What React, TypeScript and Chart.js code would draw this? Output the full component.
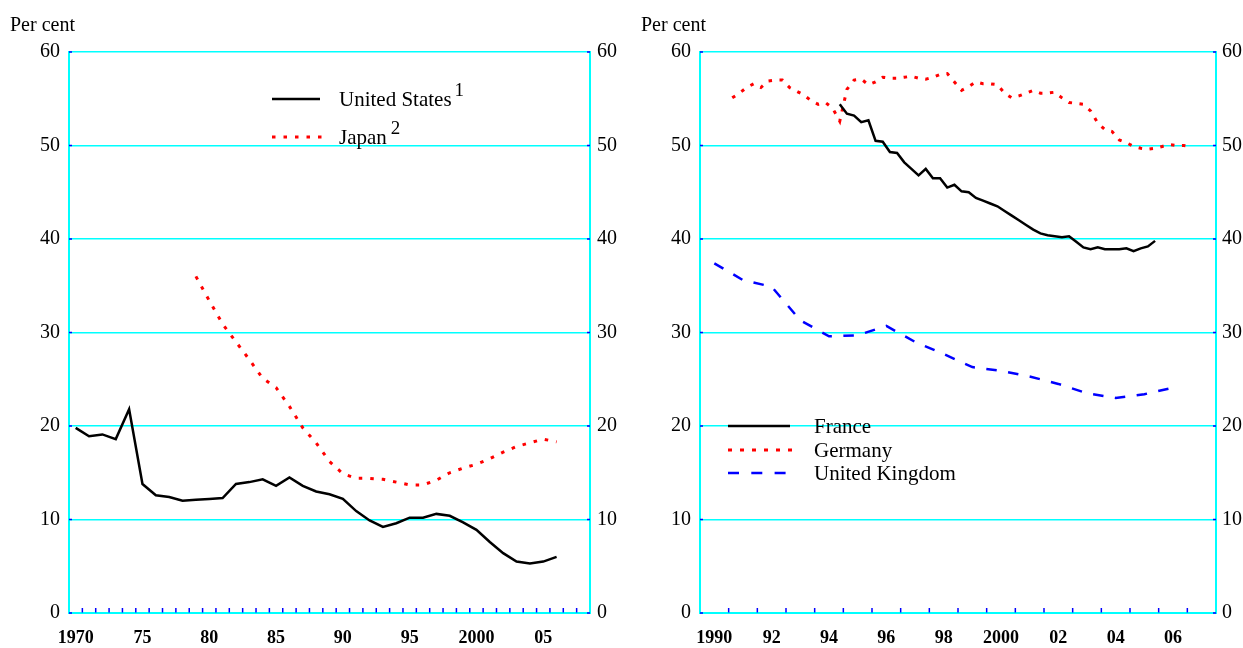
import React, { useEffect, useRef } from "react";
import { Chart, registerables } from "chart.js";

Chart.register(...registerables);

const FONT = "'Liberation Serif', 'Times New Roman', Times, serif";
const CYAN = "#00FFFF";
const TICK_BLUE = "#0000FF";

// ---------- Left panel data (annual) ----------
const usYears = [
  1970, 1971, 1972, 1973, 1974, 1975, 1976, 1977, 1978, 1979,
  1980, 1981, 1982, 1983, 1984, 1985, 1986, 1987, 1988, 1989,
  1990, 1991, 1992, 1993, 1994, 1995, 1996, 1997, 1998, 1999,
  2000, 2001, 2002, 2003, 2004, 2005, 2006,
];
const usValues = [
  19.8, 18.9, 19.1, 18.6, 21.8, 13.8, 12.6, 12.4, 12.0, 12.1,
  12.2, 12.3, 13.8, 14.0, 14.3, 13.6, 14.5, 13.6, 13.0, 12.7,
  12.2, 10.9, 9.9, 9.2, 9.6, 10.2, 10.2, 10.6, 10.4, 9.7,
  8.9, 7.6, 6.4, 5.5, 5.3, 5.5, 6.0,
];
const jpYears = [
  1979, 1980, 1981, 1982, 1983, 1984, 1985, 1986, 1987, 1988,
  1989, 1990, 1991, 1992, 1993, 1994, 1995, 1996, 1997, 1998,
  1999, 2000, 2001, 2002, 2003, 2004, 2005, 2006,
];
const jpValues = [
  36.0, 33.4, 30.9, 29.0, 27.1, 25.1, 24.1, 22.1, 19.8, 18.2,
  16.2, 14.9, 14.4, 14.4, 14.3, 14.0, 13.7, 13.7, 14.2, 15.0,
  15.5, 15.9, 16.5, 17.2, 17.8, 18.2, 18.6, 18.3,
];
const leftLabelYears = [1970, 1975, 1980, 1985, 1990, 1995, 2000, 2005];
const leftLabelTexts = ["1970", "75", "80", "85", "90", "95", "2000", "05"];
const leftAxisFrom = 1970;
const leftAxisTo = 2009;

// ---------- Right panel data ----------
// France: quarterly from 1994 Q4
const frStart = { year: 1994, quarter: 4 };
const frValues = [
  54.4, 53.4, 53.2, 52.5, 52.7, 50.5, 50.4, 49.3, 49.2, 48.2,
  47.5, 46.8, 47.5, 46.5, 46.5, 45.5, 45.8, 45.1, 45.0, 44.4,
  44.1, 43.8, 43.5, 43.0, 42.5, 42.0, 41.5, 41.0, 40.6, 40.4,
  40.3, 40.2, 40.3, 39.7, 39.1, 38.9, 39.1, 38.9, 38.9, 38.9,
  39.0, 38.7, 39.0, 39.2, 39.8,
];
// Germany: quarterly from 1991 Q1
const deStart = { year: 1991, quarter: 1 };
const deValues = [
  55.1, 55.6, 56.2, 56.6, 56.2, 56.9, 57.0, 57.0,
  56.2, 55.8, 55.4, 54.8, 54.4, 54.6, 54.0, 52.6,
  56.0, 57.0, 57.1, 56.5, 56.8, 57.3, 57.2, 57.2,
  57.3, 57.4, 57.2, 57.1, 57.3, 57.6, 57.7, 56.8,
  55.9, 56.3, 56.8, 56.6, 56.6, 56.5, 55.6, 55.1,
  55.3, 55.6, 55.9, 55.6, 55.6, 55.7, 55.1, 54.6,
  54.5, 54.4, 53.7, 52.4, 51.7, 51.5, 50.6, 50.3,
  49.9, 49.7, 49.6, 49.7, 49.9, 50.1, 50.0, 50.0,
  49.9,
];
// United Kingdom: annual
const ukYears = [
  1990, 1991, 1992, 1993, 1994, 1995, 1996, 1997, 1998, 1999,
  2000, 2001, 2002, 2003, 2004, 2005, 2006,
];
const ukValues = [
  37.4, 35.6, 34.9, 31.3, 29.6, 29.7, 30.7, 29.0, 27.7, 26.3,
  25.9, 25.3, 24.5, 23.5, 23.0, 23.4, 24.1,
];
const rightLabelYears = [1990, 1992, 1994, 1996, 1998, 2000, 2002, 2004, 2006];
const rightLabelTexts = ["1990", "92", "94", "96", "98", "2000", "02", "04", "06"];
const rightAxisFrom = 1990;
const rightAxisTo = 2008;

const yTickValues = [0, 10, 20, 30, 40, 50, 60];

// ---------- helpers ----------
const annual = (years: number[], values: number[]) =>
  years.map((yr, i) => ({ x: yr + 0.5, y: values[i] }));
const quarterly = (start: { year: number; quarter: number }, values: number[]) =>
  values.map((v, i) => {
    const q = start.quarter - 1 + i;
    return { x: start.year + Math.floor(q / 4) + (q % 4) / 4 + 0.125, y: v };
  });

type LegendItem = {
  label: string;
  sup?: string;
  supGap?: number;
  color: string;
  width: number;
  dash: number[];
  x1: number;
  x2: number;
  y: number;
  textX: number;
};

function makeDecor(opts: {
  from: number;
  to: number;
  perCentX: number;
  legend: LegendItem[];
}) {
  return {
    id: "decor",
    afterDraw(chart: any) {
      const { ctx, chartArea } = chart;
      const { left, right, bottom } = chartArea;
      const xs = chart.scales.x;
      const ys = chart.scales.y;
      ctx.save();
      ctx.strokeStyle = TICK_BLUE;
      ctx.lineWidth = 1.5;
      ctx.setLineDash([]);
      for (const v of yTickValues) {
        const py = ys.getPixelForValue(v);
        ctx.beginPath();
        ctx.moveTo(left, py);
        ctx.lineTo(left + 3, py);
        ctx.moveTo(right - 3, py);
        ctx.lineTo(right, py);
        ctx.stroke();
      }
      for (let b = opts.from + 1; b < opts.to; b++) {
        const px = xs.getPixelForValue(b);
        ctx.beginPath();
        ctx.moveTo(px, bottom - 0.5);
        ctx.lineTo(px, bottom - 5);
        ctx.stroke();
      }
      // Per cent
      ctx.fillStyle = "#000";
      ctx.font = `20px ${FONT}`;
      ctx.textBaseline = "alphabetic";
      ctx.textAlign = "left";
      ctx.fillText("Per cent", opts.perCentX, 31);
      // legend
      for (const it of opts.legend) {
        ctx.strokeStyle = it.color;
        ctx.lineWidth = it.width;
        ctx.setLineDash(it.dash);
        ctx.lineCap = "butt";
        ctx.beginPath();
        ctx.moveTo(it.x1, it.y);
        ctx.lineTo(it.x2, it.y);
        ctx.stroke();
        ctx.setLineDash([]);
        ctx.fillStyle = "#000";
        ctx.font = `21px ${FONT}`;
        ctx.fillText(it.label, it.textX, it.y + 7);
        if (it.sup) {
          const w = ctx.measureText(it.label).width;
          ctx.font = `19px ${FONT}`;
          ctx.fillText(it.sup, it.textX + w + (it.supGap ?? 2), it.y - 3);
        }
      }
      ctx.restore();
    },
  };
}

function axisOptions(
  from: number,
  to: number,
  labelYears: number[],
  labelTexts: string[],
  leftW: number,
  rightW: number,
  rightPad: number
) {
  const yTicks = {
    stepSize: 10,
    color: "#000",
    font: { family: FONT, size: 20 },
    padding: 9,
  };
  return {
    x: {
      type: "linear" as const,
      min: from,
      max: to,
      afterBuildTicks: (s: any) => {
        s.ticks = labelYears.map((yr) => ({ value: yr + 0.5 }));
      },
      ticks: {
        autoSkip: false,
        maxRotation: 0,
        color: "#000",
        font: { family: FONT, size: 18, weight: "bold" as const },
        padding: 15,
        callback: (_v: any, i: number) => labelTexts[i],
      },
      grid: { drawOnChartArea: false, drawTicks: false },
      border: { display: true, color: CYAN, width: 2 },
      afterFit: (s: any) => {
        s.height = 35;
      },
    },
    y: {
      position: "left" as const,
      min: 0,
      max: 60,
      ticks: yTicks,
      grid: { color: CYAN, lineWidth: 1.5, drawTicks: false },
      border: { display: true, color: CYAN, width: 2 },
      afterFit: (s: any) => {
        s.width = leftW;
      },
    },
    y2: {
      position: "right" as const,
      min: 0,
      max: 60,
      ticks: { ...yTicks, padding: rightPad },
      grid: { drawOnChartArea: false, drawTicks: false },
      border: { display: true, color: CYAN, width: 2 },
      afterFit: (s: any) => {
        s.width = rightW;
      },
    },
  };
}

export default function App() {
  const leftRef = useRef<HTMLCanvasElement | null>(null);
  const rightRef = useRef<HTMLCanvasElement | null>(null);

  useEffect(() => {
    const common = {
      responsive: false,
      animation: false as const,
      devicePixelRatio: 1,
      layout: { padding: { top: 52, left: 0, right: 0, bottom: 0 } },
      plugins: { legend: { display: false }, tooltip: { enabled: false } },
      elements: { point: { radius: 0 }, line: { tension: 0 } },
    };

    const left = new Chart(leftRef.current as HTMLCanvasElement, {
      type: "line",
      data: {
        datasets: [
          {
            label: "United States",
            data: annual(usYears, usValues),
            borderColor: "#000",
            borderWidth: 2.5,
            pointRadius: 0,
          },
          {
            label: "Japan",
            data: annual(jpYears, jpValues),
            borderColor: "#FF0000",
            borderWidth: 3,
            borderDash: [3.5, 8],
            pointRadius: 0,
          },
        ],
      },
      options: {
        ...common,
        scales: axisOptions(leftAxisFrom, leftAxisTo, leftLabelYears, leftLabelTexts, 69, 31, 7),
      } as any,
      plugins: [
        makeDecor({
          from: leftAxisFrom,
          to: leftAxisTo,
          perCentX: 10,
          legend: [
            { label: "United States", sup: "1", supGap: 3, color: "#000", width: 2.5, dash: [], x1: 272, x2: 320, y: 99, textX: 339 },
            { label: "Japan", sup: "2", supGap: 4, color: "#FF0000", width: 3, dash: [3.5, 8], x1: 272, x2: 322, y: 137, textX: 339 },
          ],
        }),
      ],
    });

    const right = new Chart(rightRef.current as HTMLCanvasElement, {
      type: "line",
      data: {
        datasets: [
          {
            label: "France",
            data: quarterly(frStart, frValues),
            borderColor: "#000",
            borderWidth: 2.5,
            pointRadius: 0,
          },
          {
            label: "Germany",
            data: quarterly(deStart, deValues),
            borderColor: "#FF0000",
            borderWidth: 3,
            borderDash: [3.5, 7.5],
            pointRadius: 0,
          },
          {
            label: "United Kingdom",
            data: annual(ukYears, ukValues),
            borderColor: "#0000FF",
            borderWidth: 2.5,
            borderDash: [10.5, 11.5],
            pointRadius: 0,
          },
        ],
      },
      options: {
        ...common,
        scales: axisOptions(rightAxisFrom, rightAxisTo, rightLabelYears, rightLabelTexts, 79, 27, 6),
      } as any,
      plugins: [
        makeDecor({
          from: rightAxisFrom,
          to: rightAxisTo,
          perCentX: 20,
          legend: [
            { label: "France", color: "#000", width: 2.5, dash: [], x1: 107, x2: 169, y: 426, textX: 193 },
            { label: "Germany", color: "#FF0000", width: 3, dash: [4, 8], x1: 107, x2: 171, y: 450, textX: 193 },
            { label: "United Kingdom", color: "#0000FF", width: 2.5, dash: [11, 12.3], x1: 107, x2: 170, y: 473, textX: 193 },
          ],
        }),
      ],
    });

    return () => {
      left.destroy();
      right.destroy();
    };
  }, []);

  return (
    <div
      style={{
        position: "absolute",
        left: 0,
        top: 0,
        width: 1243,
        height: 648,
        background: "#fff",
        overflow: "hidden",
      }}
    >
      <canvas
        ref={leftRef}
        width={621}
        height={648}
        style={{ position: "absolute", left: 0, top: 0, width: 621, height: 648 }}
      />
      <canvas
        ref={rightRef}
        width={622}
        height={648}
        style={{ position: "absolute", left: 621, top: 0, width: 622, height: 648 }}
      />
    </div>
  );
}
